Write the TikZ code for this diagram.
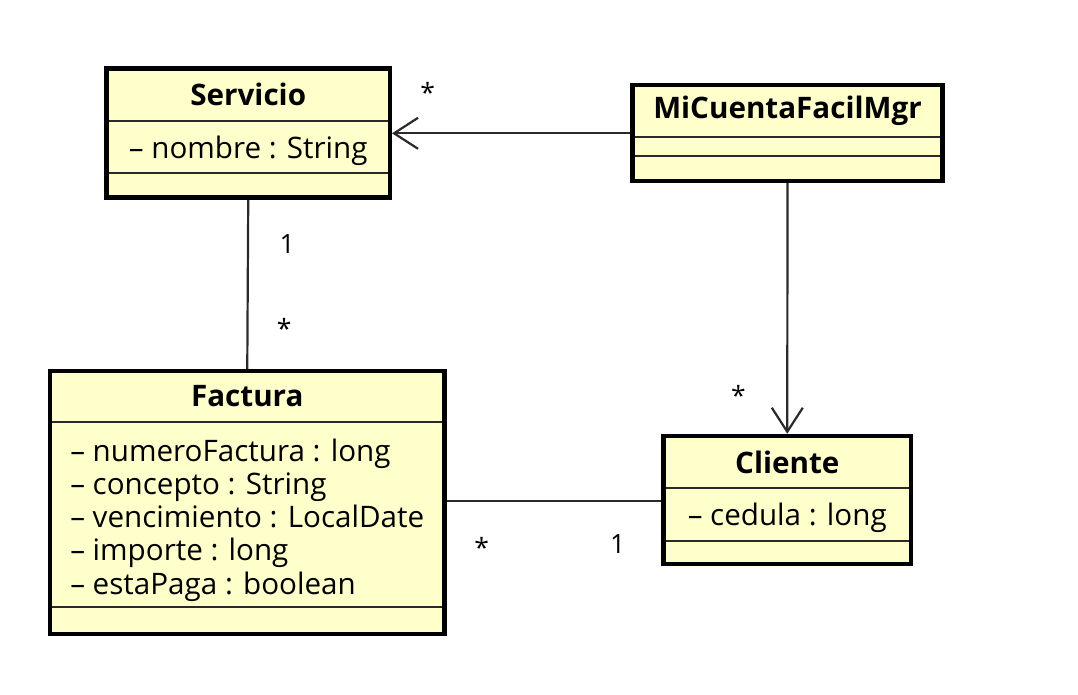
\documentclass[tikz,border=0pt]{standalone}
\usepackage{fontspec}
\setmainfont{Open Sans}
\usetikzlibrary{positioning,arrows.meta}
\definecolor{umlfill}{HTML}{FFFFCC}
\definecolor{umlline}{HTML}{2A2A2A}
\begin{document}
\begin{tikzpicture}[x=1pt, y=-1pt,
    part/.style = {draw=umlline, line width=2pt, fill=umlfill, outer sep=0pt, inner sep=0pt},
    head/.style = {part, font=\fontsize{29.6}{33.3}\selectfont\bfseries},
    attr/.style = {part, font=\fontsize{29.6}{33.3}\selectfont, text height=22pt, text depth=0pt},
    frame/.style = {draw=black, line width=4.5pt},
    assoc/.style = {draw=umlline, line width=2.2pt},
    nav/.style = {assoc, -{Straight Barb[length=24pt, width=31pt, line width=2.2pt]}},
    mult/.style = {font=\fontsize{26.5}{30}\selectfont, inner sep=0pt}]
    \useasboundingbox (0,0) rectangle (1078,694);

    % Servicio
    \node[head, minimum width=283.5pt, minimum height=52.5pt, anchor=north] (srv) at (248.25,68.5) {Servicio};
    \node[attr, minimum width=283.5pt, minimum height=52pt, below=0pt of srv] (srvA) {-- nombre : String};
    \node[part, minimum width=283.5pt, minimum height=24.5pt, below=0pt of srvA] (srvO) {};

    % MiCuentaFacilMgr
    \node[head, minimum width=310pt, minimum height=52.3pt, anchor=north] (mgr) at (787.5,85) {MiCuentaFacilMgr};
    \node[part, minimum width=310pt, minimum height=18.4pt, below=0pt of mgr] (mgrA) {};
    \node[part, minimum width=310pt, minimum height=25.3pt, below=0pt of mgrA] (mgrO) {};

    % Factura
    \node[head, minimum width=394.5pt, minimum height=50.7pt, anchor=north] (fac) at (247.25,371) {Factura};
    \node[attr, minimum width=394.5pt, minimum height=185.6pt, text depth=129pt, below=0pt of fac] (facA)
        {\begin{tabular}[t]{@{}l@{}}-- numeroFactura : long\\-- concepto : String\\-- vencimiento : LocalDate\\-- importe : long\\-- estaPaga : boolean\end{tabular}};
    \node[part, minimum width=394.5pt, minimum height=26.7pt, below=0pt of facA] (facO) {};

    % Cliente
    \node[head, minimum width=247.5pt, minimum height=52.3pt, anchor=north] (cli) at (787.25,436) {Cliente};
    \node[attr, minimum width=247.5pt, minimum height=52.4pt, text height=21pt, below=0pt of cli] (cliA) {-- cedula : long};
    \node[part, minimum width=247.5pt, minimum height=23.5pt, below=0pt of cliA] (cliO) {};

    % associations
    \draw[nav] ([yshift=4pt]mgrA.north west) -- ([yshift=4pt, xshift=2pt]mgrA.north west -| srv.east);
    \draw[assoc] (srvO.south) -- (fac.north);
    \draw[nav] (mgrO.south) -- ([yshift=2.25pt]cli.north);
    \draw[assoc] ([yshift=13.5pt]facA.east) -- ([yshift=13.5pt]cliA.west);

    \draw[frame] (srv.north west) rectangle (srvO.south east);
    \draw[frame] (mgr.north west) rectangle (mgrO.south east);
    \draw[frame] (fac.north west) rectangle (facO.south east);
    \draw[frame] (cli.north west) rectangle (cliO.south east);

    % multiplicities
    \node[mult, anchor=base] (mSrvMgr) at (427.7,102.8) {*};
    \node[mult] (mSrvFac) at (287.3,244) {1};
    \node[mult, anchor=base] (mFacSrv) at (284.3,338.8) {*};
    \node[mult, anchor=base] (mCliMgr) at (738.3,405.5) {*};
    \node[mult, anchor=base] (mFacCli) at (481.7,557.2) {*};
    \node[mult] (mCliFac) at (617.7,544) {1};
\end{tikzpicture}
\end{document}
